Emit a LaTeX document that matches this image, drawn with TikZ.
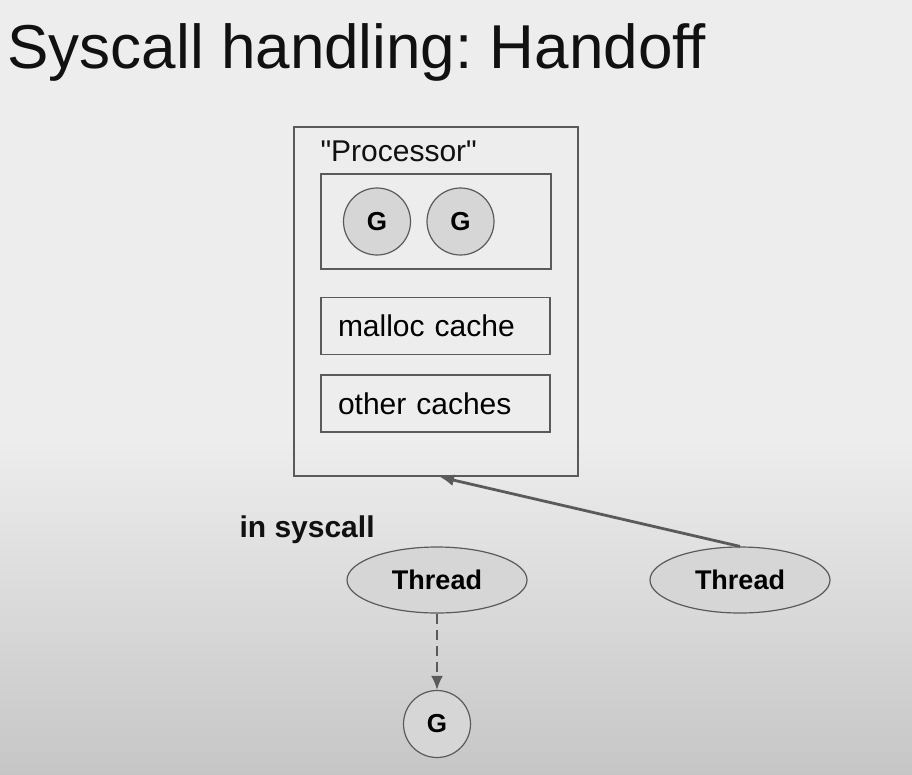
\documentclass[tikz,border=0pt]{standalone}
\usepackage{fontspec}
\setmainfont{Liberation Sans}
\newfontfamily\rawsans{Liberation Sans}
\usepackage{xcolor}
\usetikzlibrary{arrows.meta,shapes.geometric}
\definecolor{Paper}{HTML}{EDEDED}
\definecolor{PaperDark}{HTML}{C6C6C6}
\definecolor{Edge}{HTML}{5A5A5A}
\definecolor{Blob}{HTML}{D6D6D6}
\definecolor{Ink}{HTML}{111111}
\frenchspacing
\begin{document}
\begin{tikzpicture}[x=1pt,y=-1pt,
  box/.style={draw=Edge,line width=1.4pt,rectangle,inner sep=0pt},
  cache/.style={box,text width=195pt,inner xsep=17pt,minimum height=57pt,align=left,font=\fontsize{30}{34}\selectfont},
  gor/.style={draw=Edge,line width=1.2pt,fill=Blob,circle,inner sep=0pt,minimum size=67pt,font=\fontsize{26}{30}\selectfont\bfseries},
  thr/.style={draw=Edge,line width=1.2pt,fill=Blob,ellipse,inner sep=0pt,minimum width=180pt,minimum height=66pt,font=\fontsize{27}{30}\selectfont\bfseries},
  link/.style={draw=Edge,line width=2.8pt,-{Latex[length=14pt,width=12pt]}}]
\fill[Paper] (0,0) rectangle (912,774);
\shade[top color=Paper,bottom color=PaperDark] (0,440) rectangle (912,774);
\useasboundingbox (0,0) rectangle (912,774);

\node[anchor=base west,text=Ink,font=\fontsize{62}{70}\selectfont] (title) at (4,68) {Syscall handling: Handoff};

\node[box,line width=2pt,minimum width=284pt,minimum height=349pt] (proc) at (436,301.5) {};
\node[anchor=base west,text=Ink,font=\rawsans\fontsize{30}{34}\selectfont] (plabel) at (317,161) {"Processor"};
\node[box,minimum width=230pt,minimum height=95pt] (runq) at (436,221.5) {};
\node[gor] (g1) at (377,221.5) {G};
\node[gor] (g2) at (460.5,221.5) {G};
\node[cache] (malloc) at (435.5,326) {malloc cache};
\node[cache] (other) at (435.5,403.5) {other caches};

\node[anchor=base west,text=Ink,font=\fontsize{30}{34}\selectfont\bfseries] (insys) at (236,537) {in syscall};
\node[thr] (t1) at (437,580) {Thread};
\node[thr] (t2) at (740,580) {Thread};
\node[gor,minimum size=67pt] (g3) at (437,724) {G};

\draw[link] (t2.north) -- ([xshift=4pt]proc.south);
\draw[link,line width=2.4pt,dash pattern=on 10pt off 6pt] (t1.south) -- (g3.north);
\end{tikzpicture}
\end{document}
